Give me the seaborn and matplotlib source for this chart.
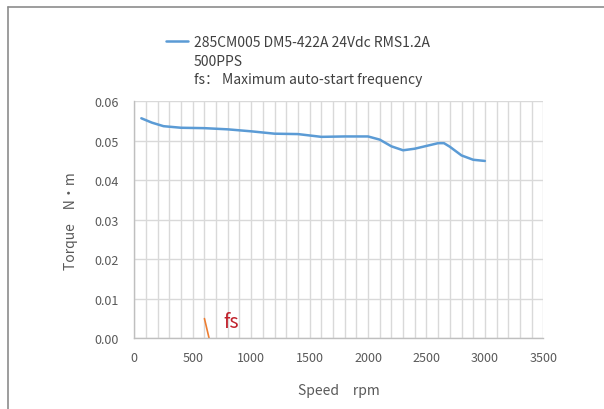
import numpy as np
import pandas as pd
import matplotlib
matplotlib.use("Agg")
import matplotlib.pyplot as plt
from matplotlib.lines import Line2D
import seaborn as sns

# Pull-out torque curve of the motor/driver combination
speed_rpm = [60, 150, 250, 400, 600, 800, 1000, 1200, 1400, 1600, 1800, 2000,
             2100, 2200, 2300, 2400, 2500, 2600, 2650, 2700, 2800, 2900, 3000]
torque_nm = [0.0557, 0.0546, 0.0537, 0.0533, 0.0532, 0.0529, 0.0524, 0.0518,
             0.0517, 0.0510, 0.0511, 0.0511, 0.0503, 0.0486, 0.0476, 0.0480,
             0.0487, 0.0494, 0.0494, 0.0485, 0.0463, 0.0452, 0.0449]

# Maximum auto-start frequency marker
fs_speed = [600, 640]
fs_torque = [0.005, 0.0]

series_name = "285CM005 DM5-422A 24Vdc RMS1.2A"
legend_notes = ["500PPS", "fs\uff1a Maximum auto-start frequency"]
x_ticks = [0, 500, 1000, 1500, 2000, 2500, 3000, 3500]
y_ticks = [0.00, 0.01, 0.02, 0.03, 0.04, 0.05, 0.06]

sns.set_style("white")
plt.rcParams["font.family"] = ["Noto Sans CJK SC", "DejaVu Sans"]

fig = plt.figure(figsize=(6.04, 4.10), dpi=100)
ax = fig.add_axes([0.2224, 0.1724, 0.8995 - 0.2224, 0.7505 - 0.1724])

df = pd.DataFrame({"speed": speed_rpm, "torque": torque_nm})
sns.lineplot(data=df, x="speed", y="torque", ax=ax, color="#5B9BD5",
             linewidth=1.8, legend=False)
sns.lineplot(x=fs_speed, y=fs_torque, ax=ax, color="#ED7D31", linewidth=1.2)

ax.text(760, 0.0043, "fs", color="#C0202A", fontsize=14, va="center", ha="left")

ax.set_xlim(0, 3500)
ax.set_ylim(0, 0.06)
ax.set_xticks(x_ticks)
ax.set_xticks(np.arange(100, 3501, 100), minor=True)
ax.set_yticks(y_ticks)
ax.set_yticklabels([f"{v:.2f}" for v in y_ticks])
ax.grid(True, which="major", axis="y", color="#D9D9D9", linewidth=1.0)
ax.grid(True, which="both", axis="x", color="#D9D9D9", linewidth=1.0)
ax.set_axisbelow(True)

for side in ["top", "right"]:
    ax.spines[side].set_visible(False)
for side in ["left", "bottom"]:
    ax.spines[side].set_color("#BFBFBF")
    ax.spines[side].set_linewidth(1.0)

ax.tick_params(axis="both", which="major", direction="out", length=5,
               width=1.0, color="#BFBFBF", labelsize=9, labelcolor="#595959")
ax.tick_params(axis="x", which="major", pad=4)
ax.tick_params(axis="y", which="major", pad=6)
ax.tick_params(axis="x", which="minor", length=0)

ax.set_xlabel("Speed\u2003rpm", fontsize=10, color="#595959", labelpad=14)
ax.set_ylabel("Torque\u2003N\u00b7m", fontsize=10, color="#595959", labelpad=12)

# legend entry above the plot, with the extra notes stacked under it
leg = fig.legend(handles=[ax.lines[0]], labels=[series_name],
                 loc="center left", bbox_to_anchor=(166 / 604, 1 - 43 / 410),
                 frameon=False, fontsize=10, handlelength=1.6,
                 handletextpad=0.4, borderaxespad=0, borderpad=0)
for t in leg.get_texts():
    t.set_color("#404040")
for i, note in enumerate(legend_notes):
    fig.text(194 / 604, 1 - (62 + 18.5 * i) / 410, note, fontsize=10,
             color="#404040", va="center", ha="left")

# chart-area frame (top and left edges)
fig.add_artist(Line2D([8 / 604, 1.0], [1 - 8 / 410, 1 - 8 / 410],
                      transform=fig.transFigure, color="#8C8C8C", linewidth=1.2))
fig.add_artist(Line2D([8 / 604, 8 / 604], [0.0, 1 - 8 / 410],
                      transform=fig.transFigure, color="#8C8C8C", linewidth=1.2))

fig.savefig("out.png", dpi=100, facecolor="white")
